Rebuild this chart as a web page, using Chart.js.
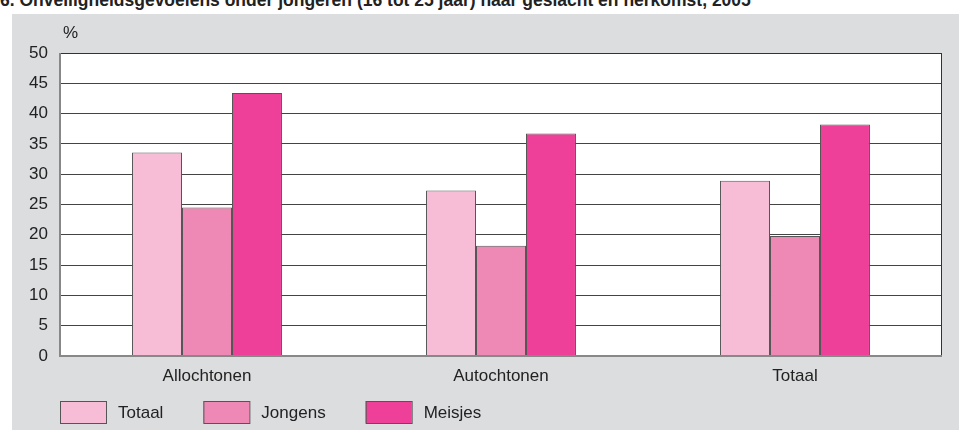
<!DOCTYPE html>
<html>
<head>
<meta charset="utf-8">
<script src="https://cdn.jsdelivr.net/npm/chart.js@4"></script>
<style>
  html, body { margin: 0; padding: 0; background: #fff; }
  body { width: 959px; height: 430px; position: relative; overflow: hidden; font-family: "Liberation Sans", Arial, sans-serif; }
  #titel { position: absolute; left: 0; top: -10px; font-weight: bold; font-size: 17.5px; line-height: 20px; color: #222; white-space: nowrap; }
  #paneel { position: absolute; left: 12px; top: 14px; width: 947px; height: 416px; background: #dcdddf; }
</style>
</head>
<body>
<div id="titel">6. Onveiligheidsgevoelens onder jongeren (16 tot 25 jaar) naar geslacht en herkomst, 2005</div>
<div id="paneel"><canvas id="grafiek" width="947" height="416"></canvas></div>
<script>
const categorieen = ["Allochtonen", "Autochtonen", "Totaal"];
const totaal = [33.6, 27.3, 28.9];
const jongens = [24.5, 18.2, 19.8];
const meisjes = [43.4, 36.7, 38.2];
const yTicks = [0, 5, 10, 15, 20, 25, 30, 35, 40, 45, 50];

const lettertype = "17px 'Liberation Sans', Arial";

// kader rond het plotgebied, "%" label en legenda onderaan
const kader = {
    id: "kader",
    beforeDraw(chart) {
        const { ctx, chartArea: a } = chart;
        ctx.save();
        ctx.fillStyle = "#ffffff";
        ctx.fillRect(a.left, a.top, a.right - a.left, a.bottom - a.top);
        ctx.restore();
    },
    afterDraw(chart) {
        const { ctx, chartArea: a } = chart;
        ctx.save();
        ctx.strokeStyle = "#333";
        ctx.lineWidth = 1;
        ctx.beginPath();
        ctx.moveTo(a.left, a.top + 0.5);
        ctx.lineTo(a.right - 0.5, a.top + 0.5);
        ctx.lineTo(a.right - 0.5, a.bottom);
        ctx.stroke();
        ctx.strokeStyle = "#888";
        ctx.lineWidth = 2;
        ctx.beginPath();
        ctx.moveTo(a.left, a.top);
        ctx.lineTo(a.left, a.bottom);
        ctx.lineTo(a.right, a.bottom);
        ctx.stroke();

        ctx.fillStyle = "#222";
        ctx.font = lettertype;
        ctx.textBaseline = "bottom";
        ctx.fillText("%", a.left + 3, a.top - 11);

        // legenda
        let x = 48;
        const y = 387;
        ctx.textBaseline = "middle";
        chart.data.datasets.forEach(ds => {
            ctx.fillStyle = ds.backgroundColor;
            ctx.fillRect(x, y, 46, 22);
            ctx.strokeStyle = "#555";
            ctx.lineWidth = 1;
            ctx.strokeRect(x + 0.5, y + 0.5, 46, 22);
            ctx.fillStyle = "#222";
            ctx.fillText(ds.label, x + 58, y + 12);
            x += 58 + ctx.measureText(ds.label).width + 40;
        });
        ctx.restore();
    }
};

const ctx = document.getElementById("grafiek").getContext("2d");
new Chart(ctx, {
    type: "bar",
    data: {
        labels: categorieen,
        datasets: [
            { label: "Totaal", data: totaal, backgroundColor: "#f7bdd7", borderColor: "#555", borderWidth: 1 },
            { label: "Jongens", data: jongens, backgroundColor: "#ee88b4", borderColor: "#555", borderWidth: 1 },
            { label: "Meisjes", data: meisjes, backgroundColor: "#ee4098", borderColor: "#555", borderWidth: 1 }
        ]
    },
    options: {
        responsive: false,
        animation: false,
        layout: { padding: { left: 0, right: 17, top: 39, bottom: 40 } },
        datasets: { bar: { barPercentage: 1, categoryPercentage: 0.51 } },
        scales: {
            x: {
                grid: { display: false },
                border: { display: false },
                ticks: { color: "#222", font: { size: 17, family: "'Liberation Sans', Arial" }, padding: 2 },
                afterFit: s => { s.height = 34; }
            },
            y: {
                min: 0, max: 50,
                afterBuildTicks: s => { s.ticks = yTicks.map(v => ({ value: v })); },
                grid: { color: "#444", lineWidth: 1, drawTicks: false },
                border: { display: false },
                ticks: { color: "#222", font: { size: 17, family: "'Liberation Sans', Arial" }, padding: 12 },
                afterFit: s => { s.width = 48; }
            }
        },
        plugins: {
            legend: { display: false },
            tooltip: { enabled: false }
        }
    },
    plugins: [kader]
});
</script>
</body>
</html>
